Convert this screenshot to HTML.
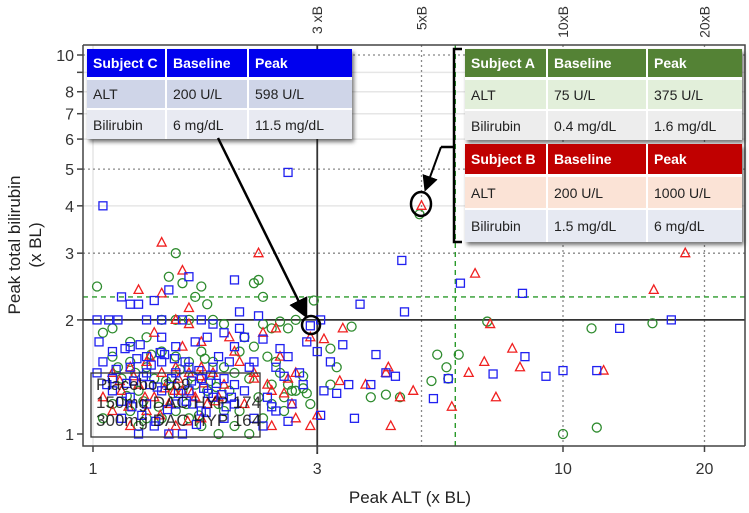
<!DOCTYPE html>
<html><head><meta charset="utf-8">
<style>
body{margin:0;background:#fff;width:749px;height:513px;overflow:hidden;font-family:"Liberation Sans",sans-serif;position:relative}
svg{position:absolute;left:0;top:0}
.tbl{position:absolute;box-shadow:2px 3px 4px rgba(0,0,0,.55);font-family:"Liberation Sans",sans-serif;font-size:14px;color:#222}
.tbl div.r{display:flex}
.tbl div.c{padding-left:6px;box-sizing:border-box;display:flex;align-items:center;border-right:2px solid #fff;white-space:nowrap;overflow:hidden}
.tbl div.c:last-child{border-right:none}
.hd .c{color:#fff;font-weight:bold}
</style></head><body>
<svg id="chart" width="749" height="513"></svg>

<div class="tbl" style="left:87px;top:49px;width:265px">
 <div class="r hd" style="height:28px;background:#0000ee;border-bottom:3px solid #fff"><div class="c" style="width:80px">Subject C</div><div class="c" style="width:82px">Baseline</div><div class="c" style="width:103px">Peak</div></div>
 <div class="r" style="height:28px;background:#cfd5e8;border-bottom:2px solid #fff"><div class="c" style="width:80px">ALT</div><div class="c" style="width:82px">200 U/L</div><div class="c" style="width:103px">598 U/L</div></div>
 <div class="r" style="height:29px;background:#e8eaf2"><div class="c" style="width:80px">Bilirubin</div><div class="c" style="width:82px">6 mg/dL</div><div class="c" style="width:103px">11.5 mg/dL</div></div>
</div>

<div class="tbl" style="left:465px;top:49px;width:277px">
 <div class="r hd" style="height:28px;background:#548235;border-bottom:3px solid #fff"><div class="c" style="width:83px">Subject A</div><div class="c" style="width:100px">Baseline</div><div class="c" style="width:94px">Peak</div></div>
 <div class="r" style="height:29px;background:#e2efda;border-bottom:2px solid #fff"><div class="c" style="width:83px">ALT</div><div class="c" style="width:100px">75 U/L</div><div class="c" style="width:94px">375 U/L</div></div>
 <div class="r" style="height:29px;background:#ededed"><div class="c" style="width:83px">Bilirubin</div><div class="c" style="width:100px">0.4 mg/dL</div><div class="c" style="width:94px">1.6 mg/dL</div></div>
</div>

<div class="tbl" style="left:465px;top:144px;width:277px">
 <div class="r hd" style="height:30px;background:#c00000;border-bottom:3px solid #fff"><div class="c" style="width:83px">Subject B</div><div class="c" style="width:100px">Baseline</div><div class="c" style="width:94px">Peak</div></div>
 <div class="r" style="height:31px;background:#fbe3d6;border-bottom:2px solid #fff"><div class="c" style="width:83px">ALT</div><div class="c" style="width:100px">200 U/L</div><div class="c" style="width:94px">1000 U/L</div></div>
 <div class="r" style="height:32px;background:#e6e9f2"><div class="c" style="width:83px">Bilirubin</div><div class="c" style="width:100px">1.5 mg/dL</div><div class="c" style="width:94px">6 mg/dL</div></div>
</div>

<svg width="749" height="513" style="pointer-events:none">
 <defs><marker id="ah" markerWidth="8" markerHeight="8" refX="6" refY="4" orient="auto"><path d="M0,0 L8,4 L0,8 z" fill="#000"/></marker></defs>
 <line x1="218" y1="138" x2="305" y2="314" stroke="#000" stroke-width="2.5" marker-end="url(#ah)"/>
 <ellipse cx="311" cy="325" rx="9" ry="9" fill="none" stroke="#000" stroke-width="2.5"/>
 <path d="M462,49 L454,49 L454,242 L462,242 M454,147 L441,147" fill="none" stroke="#000" stroke-width="2.5"/>
 <line x1="441" y1="147" x2="426" y2="188" stroke="#000" stroke-width="2" marker-end="url(#ah)"/>
 <ellipse cx="421" cy="204" rx="10" ry="12" fill="none" stroke="#000" stroke-width="2.5"/>
</svg>

<script>
const blueAlt=[1.05,2.6,2.9,4.54,3.7,4.6,6.05,8.2,13.2,17,10,11.8,5.3,3.05,2.85,3.0,3.2,3.4,4.0,4.2,3.9,4.4,3.5,3.3,3.1,3.05,3.6,5.7,7.1,8.3,9.2,2.3,2.5,2.2,2.6,2.45,2.55,2.75,2.8,2.65,2.4,2.35,2.05,2.1,2.0,1.9,1.8,1.7,1.75,1.6,1.45,1.35,1.25,1.15,1.2,1.02,1.08,1.13,1.3,1.4,1.55,1.65,1.5,1.4,1.3,1.2,1.1,1.05,1.02,1.1,1.2,1.3,1.4,1.5,1.6,1.7,1.8,1.9,2.0,1.1,1.2,1.3,1.4,1.5,1.6,1.7,1.8,1.9,2.0,2.1,1.15,1.35,1.45,1.55,1.25,2.2,1.85,1.95,2.15,1.22,1.32,1.03,2.25,2.0,2.05,
1.12,1.18,1.24,1.28,1.33,1.37,1.42,1.47,1.52,1.57,1.62,1.68,1.72,1.78,1.83,1.88,1.15,1.21,1.27,1.36,1.44,1.58,1.66,1.74,1.92,2.3,2.45,2.6,1.07,1.17,1.26,1.39,1.49,1.63,1.76,1.97];
const blueBili=[4.0,4.9,1.93,2.87,2.2,2.1,2.5,2.35,1.9,2.0,1.47,1.47,1.24,2.0,1.75,1.65,1.55,1.72,1.62,1.45,1.35,1.42,1.35,1.28,1.3,1.12,1.1,1.4,1.44,1.6,1.42,1.78,1.68,1.55,1.6,1.5,1.42,1.45,1.35,1.2,1.18,1.25,1.9,1.8,1.7,1.85,1.95,2.0,1.8,2.6,2.4,2.25,2.2,2.3,2.2,2.0,2.0,2.0,2.0,2.0,2.0,1.75,1.7,1.8,1.6,1.7,1.65,1.55,1.45,1.4,1.5,1.45,1.55,1.45,1.5,1.4,1.5,1.4,1.35,1.3,1.25,1.2,1.3,1.2,1.3,1.15,1.25,1.1,1.2,1.3,1.1,1.05,1.0,1.0,1.0,1.1,1.6,1.55,1.5,1.38,1.35,1.75,2.05,2.55,2.1,
1.48,1.36,1.58,1.42,1.52,1.33,1.62,1.4,1.28,1.55,1.38,1.47,1.32,1.43,1.36,1.27,1.22,1.18,1.12,1.08,1.16,1.22,1.06,1.14,1.18,1.05,1.15,1.08,1.35,1.68,1.72,1.64,1.58,1.2,1.28,1.25];
const greenAlt=[1.02,1.5,1.45,1.55,1.7,1.65,1.75,2.2,2.25,2.3,2.95,2.7,2.4,2.6,2.5,2.3,2.1,2.05,2.2,2.35,2.45,2.5,2.6,2.7,2.8,2.85,2.9,2.55,2.4,2.3,2.15,1.85,3.2,3.3,3.2,3.55,3.9,4.2,4.5,5.4,6.0,5.7,5.65,6.9,4.95,10,11.8,15.5,11.5,5.25,1.05,1.1,1.2,1.3,1.4,1.5,1.6,1.8,1.9,1.1,1.2,1.3,1.4,1.5,1.6,1.7,1.8,1.9,2.0,1.15,1.25,1.35,1.45,1.55,1.65,1.75,1.85,1.95,2.05,1.1,1.2,1.3,1.4,1.5,1.6,1.7,1.05,1.25,1.9,2.0,
1.13,1.23,1.33,1.43,1.53,1.63,1.73,1.83,1.18,1.28,1.38,1.48,1.58,1.68,1.78,2.15,2.25,2.4,2.55,2.65,2.8];
const greenBili=[2.45,3.0,2.6,2.5,2.45,2.3,2.2,2.5,2.55,2.3,2.25,2.0,1.9,1.9,1.98,1.95,1.8,1.65,1.7,1.6,1.55,1.45,1.35,1.3,1.32,1.28,1.2,1.25,1.2,1.1,1.0,1.0,1.68,1.5,1.35,1.92,1.25,1.27,1.25,1.62,1.62,1.4,1.5,1.98,3.8,1.0,1.04,1.96,1.9,1.38,1.85,1.9,1.75,1.8,2.0,2.0,2.0,2.0,1.95,1.6,1.55,1.5,1.65,1.6,1.55,1.65,1.55,1.5,1.45,1.4,1.3,1.4,1.35,1.3,1.35,1.3,1.2,1.3,1.15,1.2,1.15,1.1,1.1,1.15,1.1,1.05,1.1,1.05,1.15,1.05,
1.5,1.45,1.62,1.38,1.48,1.42,1.58,1.33,1.26,1.22,1.18,1.28,1.2,1.12,1.38,1.4,1.25,1.35,1.15,1.3,1.42];
const redAlt=[1.4,1.55,1.25,1.4,1.6,1.95,2.25,1.55,2.3,2.45,2.0,2.2,2.35,2.55,2.65,2.7,2.6,2.9,3.1,3.0,2.9,2.7,2.4,3.4,3.35,4.2,4.25,3.8,4.5,4.3,5.0,6.5,7.0,7.8,8.1,6.8,6.3,5.8,12.2,15.6,18.2,7.2,4.8,1.05,1.1,1.2,1.3,1.4,1.5,1.6,1.7,1.8,1.9,1.15,1.25,1.35,1.45,1.55,1.65,1.75,1.85,1.1,1.3,1.5,1.7,1.2,1.45,1.6,1.7,1.35,1.5,2.1,
1.14,1.22,1.32,1.42,1.52,1.62,1.72,1.82,1.19,1.29,1.39,1.49,1.59,1.69,2.05,2.2,2.4,2.5];
const redBili=[3.2,2.7,2.4,2.35,2.15,1.8,3.0,1.7,1.85,1.9,1.65,1.45,1.35,1.28,1.2,1.45,1.4,1.8,1.78,1.12,1.05,1.1,1.05,1.9,1.38,1.45,1.5,1.35,1.25,1.05,4.0,2.65,1.95,1.68,1.5,1.55,1.45,1.18,1.47,2.4,3.0,1.25,1.3,1.25,1.45,1.5,1.55,1.45,1.5,1.45,1.5,1.45,1.35,1.3,1.35,1.25,1.2,1.3,1.25,1.2,1.25,1.15,1.15,1.05,1.1,1.05,1.0,1.95,1.75,1.85,2.0,1.2,
1.38,1.42,1.6,1.32,1.4,1.28,1.36,1.22,1.18,1.25,1.12,1.3,1.08,1.42,1.55,1.4,1.3,1.6];
const yTicks=[1,2,3,4,5,6,7,8,9,10];
const yLabels=["1","2","3","4","5","6","7","8","","10"];
const xTicks=[1,3,10,20];
const xLabels=["1","3","10","20"];
const refLines=[3,5,10,20];
const refLabels=["3 xB","5xB","10xB","20xB"];

const NS="http://www.w3.org/2000/svg";
const svg=document.getElementById('chart');
const X0=93,XD=470,Y0=434,YD=379;
const L=83,R=745,T=45,B=446;
function xs(v){return X0+Math.log10(v)*XD;}
function ys(v){return Y0-Math.log10(v)*YD;}
function mk(tag,attrs,parent){const e=document.createElementNS(NS,tag);for(const k in attrs)e.setAttribute(k,attrs[k]);(parent||svg).appendChild(e);return e;}

[4,6,7,8,9].forEach(v=>{const l=mk('line',{x1:L,x2:R,y1:ys(v),y2:ys(v),stroke:'#e6e6e6','stroke-width':1.5});

});
[1].forEach(v=>{const l=mk('line',{x1:xs(v),x2:xs(v),y1:T,y2:B,stroke:'#e6e6e6','stroke-width':1.5});

});
[3,5,10].forEach(v=>{const l=mk('line',{x1:L,x2:R,y1:ys(v),y2:ys(v),stroke:'#888','stroke-width':1.3,'stroke-dasharray':'2,3'});

});
[5,10,20].forEach(v=>{const l=mk('line',{x1:xs(v),x2:xs(v),y1:T,y2:B,stroke:'#888','stroke-width':1.3,'stroke-dasharray':'2,3'});

});
let l1=mk('line',{x1:xs(3),x2:xs(3),y1:T,y2:B+8,stroke:'#333','stroke-width':1.8});


let l2=mk('line',{x1:L,x2:R,y1:ys(2),y2:ys(2),stroke:'#333','stroke-width':1.8});


let g1=mk('line',{x1:L,x2:R,y1:ys(2.3),y2:ys(2.3),stroke:'#2a9a2a','stroke-width':1.4,'stroke-dasharray':'5,4'});


let g2=mk('line',{x1:xs(5.9),x2:xs(5.9),y1:T,y2:B,stroke:'#2a9a2a','stroke-width':1.4,'stroke-dasharray':'5,4'});



function drawSeries(ax,ay,type,color,name){
 for(let i=0;i<ax.length;i++){
  const x=xs(ax[i]),y=ys(ay[i]);let e;
  if(type==='sq')e=mk('rect',{x:x-4,y:y-4,width:8,height:8,fill:'none',stroke:color,'stroke-width':1.3});
  else if(type==='ci')e=mk('circle',{cx:x,cy:y,r:4.5,fill:'none',stroke:color,'stroke-width':1.3});
  else e=mk('path',{d:`M${x},${y-5}L${x+4.5},${y+3.5}L${x-4.5},${y+3.5}Z`,fill:'none',stroke:color,'stroke-width':1.3});
  
  
 }
}
drawSeries(greenAlt,greenBili,'ci','#2e8b2e','point-150mg');
drawSeries(redAlt,redBili,'tr','#f02020','point-300mg');
drawSeries(blueAlt,blueBili,'sq','#2020f0','point-placebo');

let fr=mk('path',{d:`M${L},${T}L${R},${T}L${R},${B}M${L},${T}L${L},${B}L${R},${B}`,fill:'none',stroke:'#444','stroke-width':1.5});



yTicks.forEach((v,i)=>{const y=ys(v);
 const t=mk('line',{x1:L-6,x2:L,y1:y,y2:y,stroke:'#444','stroke-width':1.5});
 
 
 if(yLabels[i]){const tx=mk('text',{x:L-9,y:y+6,'text-anchor':'end','font-size':16,fill:'#333'});tx.textContent=yLabels[i];
 
 }
});
xTicks.forEach((v,i)=>{const x=xs(v);
 const t=mk('line',{x1:x,x2:x,y1:B,y2:B+6,stroke:'#444','stroke-width':1.5});
 
 
 const tx=mk('text',{x:x,y:B+28,'text-anchor':'middle','font-size':16,fill:'#333'});tx.textContent=xLabels[i];
 
 
});
refLines.forEach((v,i)=>{const x=xs(v);
 const tx=mk('text',{x:0,y:0,'text-anchor':'end','font-size':14,fill:'#333',transform:`translate(${x+5},6) rotate(-90)`});tx.textContent=refLabels[i];
 
 
});
let xt=mk('text',{x:410,y:503,'text-anchor':'middle','font-size':17,fill:'#222'});xt.textContent='Peak ALT (x BL)';


let yt=mk('text',{x:0,y:0,'text-anchor':'middle','font-size':17,fill:'#222',transform:'translate(20,245) rotate(-90)'});yt.textContent='Peak total bilirubin';


let yt2=mk('text',{x:0,y:0,'text-anchor':'middle','font-size':17,fill:'#222',transform:'translate(41,245) rotate(-90)'});yt2.textContent='(x BL)';



let lg=mk('rect',{x:91,y:373,width:169,height:64,fill:'none',stroke:'#333','stroke-width':1.3});


const legTxt=["Placebo 169","150mg DAC HYP 174","300mg DAC HYP 164"];
legTxt.forEach((s,i)=>{const tx=mk('text',{x:96,y:390+i*18,'font-size':17,fill:'#111','fill-opacity':0.85});tx.textContent=s;
 
 });
</script>
</body></html>
